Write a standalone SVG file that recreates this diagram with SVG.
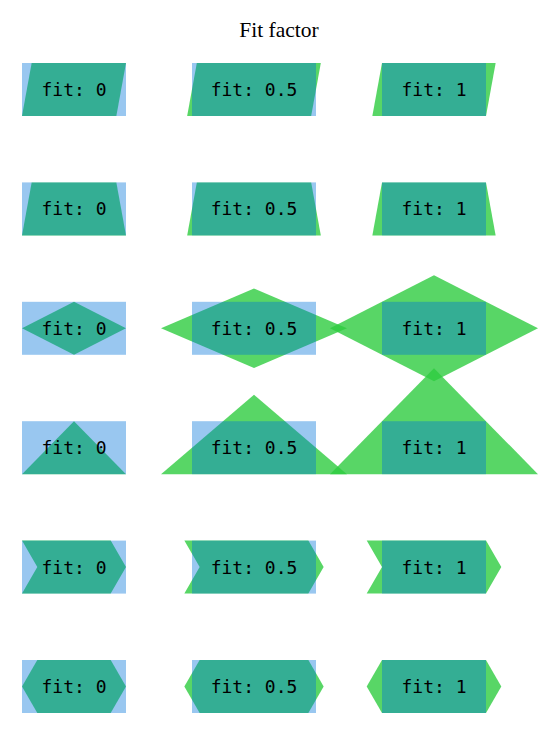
<svg xmlns="http://www.w3.org/2000/svg" width="560" height="735" viewBox="0 0 560 735">
<style>
.shape{fill:#2ecc40;fill-opacity:0.8;stroke:none}
.box{fill:#0074d9;fill-opacity:0.4;stroke:none}
.lbl{font-family:"DejaVu Sans Mono",monospace;font-size:18px;fill:#000;text-anchor:middle}
.title{font-family:"Liberation Serif","DejaVu Serif",serif;font-size:21.5px;fill:#000;text-anchor:middle}
</style>
<rect width="560" height="735" fill="#fff"/>
<text class="title" x="279" y="36.7">Fit factor</text>

<!-- Row 1: parallelogram -->
<g id="par0"><polygon class="shape" points="31.65,63 126,63 116.35,116 22,116"/><rect class="box" x="22" y="63" width="104" height="53"/><text class="lbl" x="74" y="96">fit: 0</text></g>
<g id="par05"><polygon class="shape" points="196.83,63 320.83,63 311.17,116 187.17,116"/><rect class="box" x="192" y="63" width="124" height="53"/><text class="lbl" x="254" y="96">fit: 0.5</text></g>
<g id="par1"><polygon class="shape" points="382,63 495.65,63 486,116 372.35,116"/><rect class="box" x="382" y="63" width="104" height="53"/><text class="lbl" x="434" y="96">fit: 1</text></g>

<!-- Row 2: trapezium -->
<g id="trap0"><polygon class="shape" points="31.65,182.4 116.35,182.4 126,235.4 22,235.4"/><rect class="box" x="22" y="182.4" width="104" height="53"/><text class="lbl" x="74" y="215.4">fit: 0</text></g>
<g id="trap05"><polygon class="shape" points="196.83,182.4 311.17,182.4 320.83,235.4 187.17,235.4"/><rect class="box" x="192" y="182.4" width="124" height="53"/><text class="lbl" x="254" y="215.4">fit: 0.5</text></g>
<g id="trap1"><polygon class="shape" points="382,182.4 486,182.4 495.65,235.4 372.35,235.4"/><rect class="box" x="382" y="182.4" width="104" height="53"/><text class="lbl" x="434" y="215.4">fit: 1</text></g>

<!-- Row 3: diamond -->
<g id="dia0"><polygon class="shape" points="22,328.3 74,301.8 126,328.3 74,354.8"/><rect class="box" x="22" y="301.8" width="104" height="53"/><text class="lbl" x="74" y="334.8">fit: 0</text></g>
<g id="dia05"><polygon class="shape" points="161,328.3 254,288.55 347,328.3 254,368.05"/><rect class="box" x="192" y="301.8" width="124" height="53"/><text class="lbl" x="254" y="334.8">fit: 0.5</text></g>
<g id="dia1"><polygon class="shape" points="330,328.3 434,275.3 538,328.3 434,381.3"/><rect class="box" x="382" y="301.8" width="104" height="53"/><text class="lbl" x="434" y="334.8">fit: 1</text></g>

<!-- Row 4: triangle -->
<g id="tri0"><polygon class="shape" points="22,474.2 74,421.2 126,474.2"/><rect class="box" x="22" y="421.2" width="104" height="53"/><text class="lbl" x="74" y="454.2">fit: 0</text></g>
<g id="tri05"><polygon class="shape" points="161,474.2 254,394.7 347,474.2"/><rect class="box" x="192" y="421.2" width="124" height="53"/><text class="lbl" x="254" y="454.2">fit: 0.5</text></g>
<g id="tri1"><polygon class="shape" points="330,474.2 434,368.2 538,474.2"/><rect class="box" x="382" y="421.2" width="104" height="53"/><text class="lbl" x="434" y="454.2">fit: 1</text></g>

<!-- Row 5: chevron -->
<g id="chev0"><polygon class="shape" points="22,540.6 110.7,540.6 126,567.1 110.7,593.6 22,593.6 37.3,567.1"/><rect class="box" x="22" y="540.6" width="104" height="53"/><text class="lbl" x="74" y="573.6">fit: 0</text></g>
<g id="chev05"><polygon class="shape" points="184.35,540.6 308.35,540.6 323.65,567.1 308.35,593.6 184.35,593.6 199.65,567.1"/><rect class="box" x="192" y="540.6" width="124" height="53"/><text class="lbl" x="254" y="573.6">fit: 0.5</text></g>
<g id="chev1"><polygon class="shape" points="366.7,540.6 486,540.6 501.3,567.1 486,593.6 366.7,593.6 382,567.1"/><rect class="box" x="382" y="540.6" width="104" height="53"/><text class="lbl" x="434" y="573.6">fit: 1</text></g>

<!-- Row 6: hexagon -->
<g id="hex0"><polygon class="shape" points="22,686.5 37.3,660 110.7,660 126,686.5 110.7,713 37.3,713"/><rect class="box" x="22" y="660" width="104" height="53"/><text class="lbl" x="74" y="693">fit: 0</text></g>
<g id="hex05"><polygon class="shape" points="184.35,686.5 199.65,660 308.35,660 323.65,686.5 308.35,713 199.65,713"/><rect class="box" x="192" y="660" width="124" height="53"/><text class="lbl" x="254" y="693">fit: 0.5</text></g>
<g id="hex1"><polygon class="shape" points="366.7,686.5 382,660 486,660 501.3,686.5 486,713 382,713"/><rect class="box" x="382" y="660" width="104" height="53"/><text class="lbl" x="434" y="693">fit: 1</text></g>
</svg>
